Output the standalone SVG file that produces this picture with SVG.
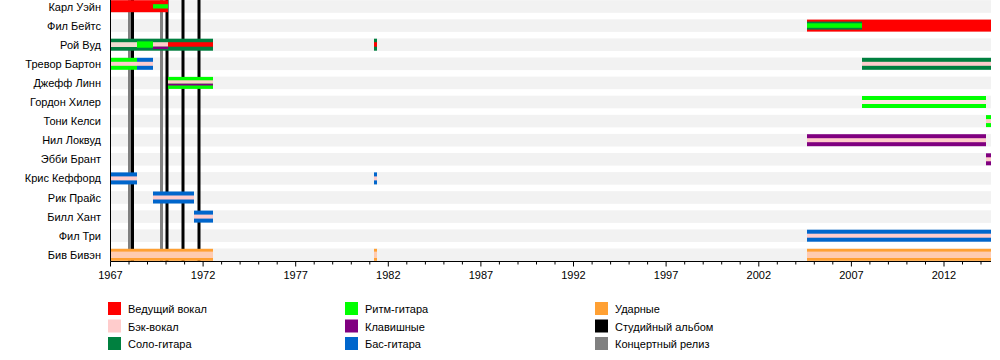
<svg xmlns="http://www.w3.org/2000/svg" width="1000" height="360" viewBox="0 0 1000 360">
<style>
text{font-family:"Liberation Sans",Arial,sans-serif;font-size:11px;fill:#000}
.name{text-anchor:end}
.yr{text-anchor:middle}
.band{fill:#f2f2f2}
.lv{fill:#ff0000}
.bv{fill:#ffcccc}
.lg{fill:#00803f}
.rg{fill:#00ff00}
.kb{fill:#800080}
.bs{fill:#0066cc}
.dr{fill:#ffa033}
.pe{fill:#ffcbb0}
.be{fill:#efdccf}
.st{stroke:#000;stroke-width:3}
.lr{stroke:#808080;stroke-width:3}
.ax{stroke:#000;stroke-width:1;fill:none}
</style>
<rect width="1000" height="360" fill="#fff"/>
<g id="bands">
<rect class="band" x="111" y="0.2" width="880" height="12.6"/>
<rect class="band" x="111" y="19.3" width="880" height="12.6"/>
<rect class="band" x="111" y="38.4" width="880" height="12.6"/>
<rect class="band" x="111" y="57.5" width="880" height="12.6"/>
<rect class="band" x="111" y="76.6" width="880" height="12.6"/>
<rect class="band" x="111" y="95.7" width="880" height="12.6"/>
<rect class="band" x="111" y="114.8" width="880" height="12.6"/>
<rect class="band" x="111" y="133.9" width="880" height="12.6"/>
<rect class="band" x="111" y="153.0" width="880" height="12.6"/>
<rect class="band" x="111" y="172.1" width="880" height="12.6"/>
<rect class="band" x="111" y="191.2" width="880" height="12.6"/>
<rect class="band" x="111" y="210.3" width="880" height="12.6"/>
<rect class="band" x="111" y="229.4" width="880" height="12.6"/>
<rect class="band" x="111" y="248.5" width="880" height="12.6"/>
</g>
<g id="connectors">
<line class="lr" x1="129.5" y1="0" x2="129.5" y2="261"/>
<line class="st" x1="132.5" y1="0" x2="132.5" y2="261"/>
<line class="lr" x1="161.5" y1="0" x2="161.5" y2="261"/>
<line class="st" x1="167" y1="0" x2="167" y2="261"/>
<line class="st" x1="183" y1="0" x2="183" y2="261"/>
<line class="st" x1="199" y1="0" x2="199" y2="261"/>
</g>
<g id="karl-wayne" transform="translate(0,6.5)">
<text class="name" x="101" y="4">Карл Уэйн</text>
<rect class="lv" x="111" y="-6.3" width="57" height="12"/>
<rect class="rg" x="153" y="-2.3" width="15" height="4.3"/>
</g>
<g id="phil-bates" transform="translate(0,25.6)">
<text class="name" x="101" y="4">Фил Бейтс</text>
<rect class="lv" x="807" y="-6" width="184" height="12"/>
<rect class="lg" x="807" y="-4" width="55" height="8"/>
<rect class="rg" x="807" y="-2.3" width="55" height="4.5"/>
</g>
<g id="roy-wood" transform="translate(0,44.7)">
<text class="name" x="101" y="4">Рой Вуд</text>
<rect class="lg" x="111" y="-6" width="102" height="12"/>
<rect class="be" x="111" y="-2.5" width="26" height="4.8"/>
<rect class="rg" x="137" y="-3.3" width="16" height="6.3"/>
<rect class="bv" x="153" y="-2.5" width="15" height="4.5"/>
<rect class="kb" x="153" y="2" width="15" height="2.3"/>
<rect class="lv" x="168" y="-2.5" width="45" height="4.5"/>
<rect class="lg" x="374" y="-6" width="3" height="12"/>
<rect class="lv" x="374" y="-2.5" width="3" height="4.5"/>
</g>
<g id="trevor-burton" transform="translate(0,63.8)">
<text class="name" x="101" y="4">Тревор Бартон</text>
<rect class="rg" x="111" y="-6" width="26" height="12"/>
<rect class="bs" x="137" y="-6" width="16" height="12"/>
<rect class="bv" x="111" y="-2" width="42" height="4"/>
<rect class="lg" x="862" y="-6" width="129" height="12"/>
<rect class="bv" x="862" y="-2" width="129" height="4"/>
</g>
<g id="jeff-lynne" transform="translate(0,82.9)">
<text class="name" x="101" y="4">Джефф Линн</text>
<rect class="rg" x="168" y="-6" width="45" height="12"/>
<rect class="bv" x="168" y="-2.6" width="45" height="3.4"/>
<rect class="kb" x="168" y="0.8" width="45" height="1.8"/>
</g>
<g id="gordon-healer" transform="translate(0,102)">
<text class="name" x="101" y="4">Гордон Хилер</text>
<rect class="rg" x="862" y="-6" width="124" height="12"/>
<rect class="bv" x="862" y="-2" width="124" height="4" style="fill:#ffe4e4"/>
</g>
<g id="tony-kelsey" transform="translate(0,121.1)">
<text class="name" x="101" y="4">Тони Келси</text>
<rect class="rg" x="986" y="-6" width="5" height="12"/>
<rect class="bv" x="986" y="-2" width="5" height="4"/>
</g>
<g id="neil-lockwood" transform="translate(0,140.2)">
<text class="name" x="101" y="4">Нил Локвуд</text>
<rect class="kb" x="807" y="-6" width="179" height="12"/>
<rect class="bv" x="807" y="-2" width="179" height="4"/>
</g>
<g id="abby-brant" transform="translate(0,159.3)">
<text class="name" x="101" y="4">Эбби Брант</text>
<rect class="kb" x="986" y="-6" width="5" height="12"/>
<rect class="bv" x="986" y="-2" width="5" height="4"/>
</g>
<g id="chris-kefford" transform="translate(0,178.4)">
<text class="name" x="101" y="4">Крис Кеффорд</text>
<rect class="bs" x="111" y="-6" width="26" height="12"/>
<rect class="bv" x="111" y="-2" width="26" height="4"/>
<rect class="bs" x="374" y="-6" width="3" height="12"/>
<rect class="bv" x="374" y="-2" width="3" height="4"/>
</g>
<g id="rick-price" transform="translate(0,197.5)">
<text class="name" x="101" y="4">Рик Прайс</text>
<rect class="bs" x="153" y="-6" width="41" height="12"/>
<rect class="bv" x="153" y="-2" width="41" height="4"/>
</g>
<g id="bill-hunt" transform="translate(0,216.6)">
<text class="name" x="101" y="4">Билл Хант</text>
<rect class="bs" x="194" y="-6" width="19" height="12"/>
<rect class="bv" x="194" y="-2" width="19" height="4"/>
</g>
<g id="phil-tree" transform="translate(0,235.7)">
<text class="name" x="101" y="4">Фил Три</text>
<rect class="bs" x="807" y="-6" width="184" height="12"/>
<rect class="bv" x="807" y="-2" width="184" height="4"/>
</g>
<g id="bev-bevan" transform="translate(0,254.8)">
<text class="name" x="101" y="4">Бив Бивэн</text>
<rect class="dr" x="111" y="-6" width="102" height="12"/>
<rect class="pe" x="111" y="-3.2" width="102" height="6.4"/>
<rect class="dr" x="374" y="-6" width="3" height="12"/>
<rect class="pe" x="374" y="-3.2" width="3" height="6.4"/>
<rect class="dr" x="807" y="-6" width="184" height="12"/>
<rect class="pe" x="807" y="-3.2" width="184" height="6.4"/>
</g>
<g id="axis">
<line class="ax" x1="110.5" y1="0" x2="110.5" y2="261.5"/>
<line class="ax" x1="110.5" y1="261.5" x2="991" y2="261.5"/>
<path class="ax" d="M110.5 261.5v5M129 261.5v3M147.5 261.5v3M166 261.5v3M184.6 261.5v3M203.1 261.5v5M221.6 261.5v3M240.1 261.5v3M258.7 261.5v3M277.2 261.5v3M295.7 261.5v5M314.2 261.5v3M332.7 261.5v3M351.3 261.5v3M369.8 261.5v3M388.3 261.5v5M406.8 261.5v3M425.4 261.5v3M443.9 261.5v3M462.4 261.5v3M480.9 261.5v5M499.4 261.5v3M518 261.5v3M536.5 261.5v3M555 261.5v3M573.5 261.5v5M592.1 261.5v3M610.6 261.5v3M629.1 261.5v3M647.6 261.5v3M666.1 261.5v5M684.7 261.5v3M703.2 261.5v3M721.7 261.5v3M740.2 261.5v3M758.8 261.5v5M777.3 261.5v3M795.8 261.5v3M814.3 261.5v3M832.8 261.5v3M851.4 261.5v5M869.9 261.5v3M888.4 261.5v3M906.9 261.5v3M925.5 261.5v3M944 261.5v5M962.5 261.5v3M981 261.5v3"/>
<text class="yr" x="110.5" y="279">1967</text>
<text class="yr" x="203.1" y="279">1972</text>
<text class="yr" x="295.7" y="279">1977</text>
<text class="yr" x="388.3" y="279">1982</text>
<text class="yr" x="480.9" y="279">1987</text>
<text class="yr" x="573.5" y="279">1992</text>
<text class="yr" x="666.1" y="279">1997</text>
<text class="yr" x="758.8" y="279">2002</text>
<text class="yr" x="851.4" y="279">2007</text>
<text class="yr" x="944" y="279">2012</text>
</g>
<g id="legend">
<rect class="lv" x="108" y="302" width="13" height="13"/>
<text x="128" y="313">Ведущий вокал</text>
<rect class="bv" x="108" y="319.5" width="13" height="13"/>
<text x="128" y="330.5">Бэк-вокал</text>
<rect class="lg" x="108" y="337" width="13" height="13"/>
<text x="128" y="348">Соло-гитара</text>
<rect class="rg" x="345" y="302" width="13" height="13"/>
<text x="365" y="313">Ритм-гитара</text>
<rect class="kb" x="345" y="319.5" width="13" height="13"/>
<text x="365" y="330.5">Клавишные</text>
<rect class="bs" x="345" y="337" width="13" height="13"/>
<text x="365" y="348">Бас-гитара</text>
<rect class="dr" x="595" y="302" width="13" height="13"/>
<text x="615" y="313">Ударные</text>
<rect fill="#000" x="595" y="319.5" width="13" height="13"/>
<text x="615" y="330.5">Студийный альбом</text>
<rect fill="#808080" x="595" y="337" width="13" height="13"/>
<text x="615" y="348">Концертный релиз</text>
</g>
</svg>
